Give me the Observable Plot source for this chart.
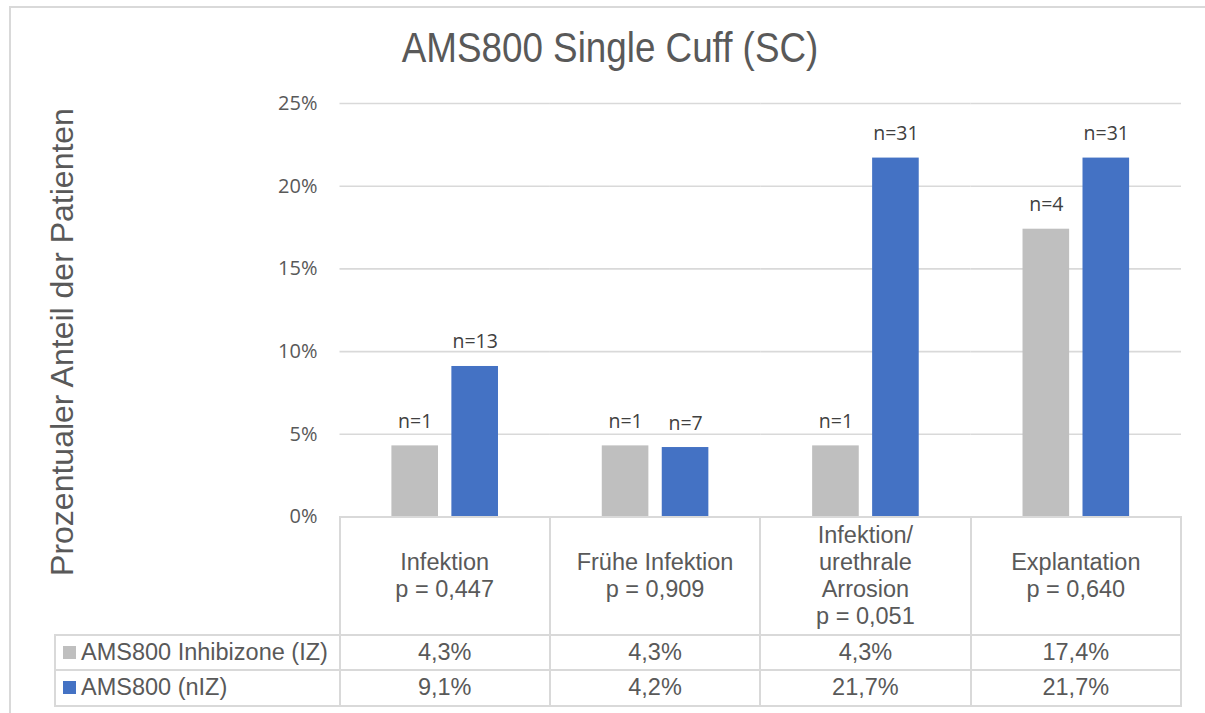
<!DOCTYPE html>
<html>
<head>
<meta charset="utf-8">
<script src="https://cdn.jsdelivr.net/npm/d3@7"></script>
<script src="https://cdn.jsdelivr.net/npm/@observablehq/plot@0.6"></script>
<style>
  html, body { margin: 0; padding: 0; background: #fff; }
  #chart {
    position: relative; width: 1205px; height: 713px; overflow: hidden;
    background: #fff; color: #595959;
    font-family: "Liberation Sans", Arial, sans-serif;
  }
  #chart svg { position: absolute; left: 0; top: 0; }
  .frame {
    position: absolute; left: 9px; top: 6px; width: 1300px; height: 800px;
    border: 2px solid #d9d9d9; box-sizing: border-box;
  }
  .title {
    position: absolute; left: 0; width: 1220px; top: 27px; text-align: center;
    font-family: "Liberation Sans", sans-serif;
    font-size: 42px; line-height: 42px; white-space: nowrap;
    transform: scaleX(0.876); transform-origin: 610px 0;
  }
  .ytitle {
    position: absolute; width: 600px; height: 32px; text-align: center;
    font-size: 32px; line-height: 32px; white-space: nowrap;
    transform: rotate(-90deg);
  }
  .line { position: absolute; background: #d9d9d9; }
  .cell {
    position: absolute; display: flex; align-items: center; justify-content: center;
    text-align: center; font-size: 23.5px; line-height: 27px; white-space: nowrap;
  }
  .legend { justify-content: flex-start; }
  .swatch { display: inline-block; width: 13px; height: 13px; margin-right: 5px; flex: none; }
</style>
</head>
<body>
<div id="chart"></div>
<script>
// Complication rates of the AMS800 single cuff, with and without InhibiZone coating
const categories = ["Infektion", "Frühe Infektion", "Infektion/ urethrale Arrosion", "Explantation"];
const categoryLines = [["Infektion"], ["Frühe Infektion"], ["Infektion/", "urethrale", "Arrosion"], ["Explantation"]];
const pValues = ["0,447", "0,909", "0,051", "0,640"];
const seriesNames = ["AMS800 Inhibizone (IZ)", "AMS800 (nIZ)"];
const seriesColors = ["#bfbfbf", "#4472c4"];
const valuesIZ = [4.3, 4.3, 4.3, 17.4];
const valuesNIZ = [9.1, 4.2, 21.7, 21.7];
const countsIZ = [1, 1, 1, 4];
const countsNIZ = [13, 7, 31, 31];
const yTicks = [0, 5, 10, 15, 20, 25];
const chartTitle = "AMS800 Single Cuff (SC)";
const yTitle = "Prozentualer Anteil der Patienten";

const seriesValues = [valuesIZ, valuesNIZ];
const seriesCounts = [countsIZ, countsNIZ];
const rows = categories.flatMap((category, i) =>
  seriesNames.map((series, s) => ({
    category, series, value: seriesValues[s][i], n: seriesCounts[s][i]
  }))
);

const fmtPct = v => v.toFixed(1).replace(".", ",") + "%";

const root = document.getElementById("chart");

const frame = document.createElement("div");
frame.className = "frame";
root.appendChild(frame);

const chart = Plot.plot({
  width: 1205,
  height: 530,
  marginTop: 103,
  marginBottom: 13.5,
  marginLeft: 339.5,
  marginRight: 24,
  style: { background: "transparent", fontFamily: "'Open Sans', sans-serif", fontSize: "20px", color: "#595959" },
  fx: { domain: categories, padding: 0, axis: null, round: false },
  x: { domain: seriesNames, paddingInner: 0.223, paddingOuter: 0.865, axis: null, round: false },
  y: { domain: [0, 25], ticks: yTicks, tickSize: 0, tickPadding: 22.5, tickFormat: d => d + "%", label: null },
  color: { domain: seriesNames, range: seriesColors },
  marks: [
    Plot.ruleY(yTicks, { stroke: "#d9d9d9", strokeWidth: 1.6 }),
    Plot.barY(rows, { fx: "category", x: "series", y: "value", fill: "series" }),
    Plot.text(rows, {
      fx: "category", x: "series", y: "value", text: d => "n=" + d.n,
      lineAnchor: "bottom", dy: -18, fill: "#404040", fontSize: 19.5
    })
  ]
});
root.appendChild(chart);

// Title and rotated axis title
const title = document.createElement("div");
title.className = "title";
title.textContent = chartTitle;
root.appendChild(title);

const yt = document.createElement("div");
yt.className = "ytitle";
yt.textContent = yTitle;
yt.style.left = (62 - 300) + "px";
yt.style.top = (342 - 16) + "px";
root.appendChild(yt);

// Data table underneath the plot, aligned to the facet bands
const fx = chart.scale("fx");
const y = chart.scale("y");
const bw = fx.bandwidth;
const colX = categories.map(c => fx.apply(c));
const plotLeft = colX[0];
const plotRight = colX[colX.length - 1] + bw;
const tableTop = y.apply(0);
const headerH = 118;
const rowH = 35.5;
const tableLeft = 55;
const lw = 2;

function line(x, yy, w, h) {
  const d = document.createElement("div");
  d.className = "line";
  d.style.left = x + "px"; d.style.top = yy + "px";
  d.style.width = w + "px"; d.style.height = h + "px";
  root.appendChild(d);
}
function cell(x, yy, w, h, cls) {
  const d = document.createElement("div");
  d.className = "cell" + (cls ? " " + cls : "");
  d.style.left = x + "px"; d.style.top = yy + "px";
  d.style.width = w + "px"; d.style.height = h + "px";
  root.appendChild(d);
  return d;
}

const rowTops = [tableTop + headerH, tableTop + headerH + rowH];
const tableBottom = tableTop + headerH + 2 * rowH;

// horizontal rules
line(plotLeft - lw / 2, tableTop - lw / 2, plotRight - plotLeft + lw, lw);
[rowTops[0], rowTops[1], tableBottom].forEach(t =>
  line(tableLeft - lw / 2, t - lw / 2, plotRight - tableLeft + lw, lw));
// vertical rules
colX.concat([plotRight]).forEach(x =>
  line(x - lw / 2, tableTop - lw / 2, lw, tableBottom - tableTop + lw));
line(tableLeft - lw / 2, rowTops[0] - lw / 2, lw, tableBottom - rowTops[0] + lw);

// header cells: category name and p value
categories.forEach((c, i) => {
  const d = cell(colX[i], tableTop, bw, headerH);
  d.innerHTML = categoryLines[i].concat(["p = " + pValues[i]]).join("<br>");
});

// series rows: legend swatch + values
seriesNames.forEach((s, r) => {
  const lg = cell(tableLeft + 8, rowTops[r], plotLeft - tableLeft - 8, rowH, "legend");
  const sw = document.createElement("span");
  sw.className = "swatch";
  sw.style.background = seriesColors[r];
  lg.appendChild(sw);
  lg.appendChild(document.createTextNode(s));
  categories.forEach((c, i) => {
    const d = cell(colX[i], rowTops[r], bw, rowH);
    d.textContent = fmtPct(seriesValues[r][i]);
  });
});
</script>
</body>
</html>
